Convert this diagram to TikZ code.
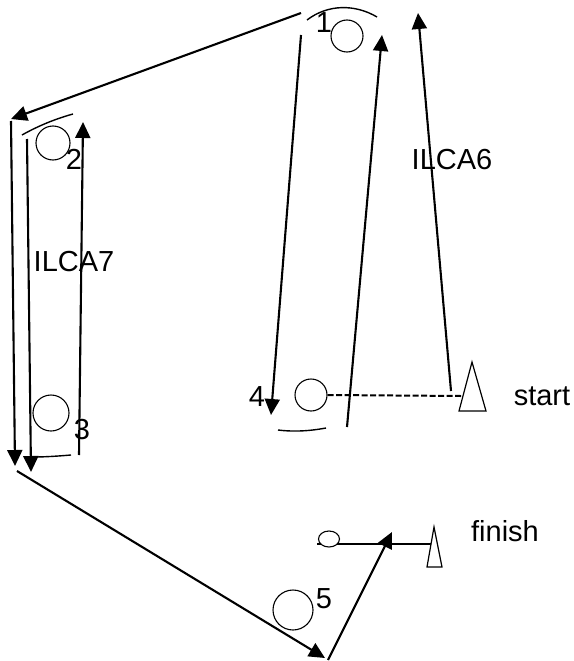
\documentclass[tikz,border=0pt]{standalone}
\usepackage{fontspec}
\setmainfont{Liberation Sans}
\usetikzlibrary{arrows.meta,shapes.geometric}
\tikzset{
    roller/.style={circle, draw, line width=1.1pt, inner sep=0pt},
    mark label/.style={inner sep=0pt, anchor=base, font=\fontsize{29}{32}\selectfont},
    leg/.style={line width=2.1pt, -{Triangle[length=16pt, width=15pt]}},
    guard/.style={line width=1.4pt},
    flag/.style={line width=1.2pt, fill=white}
}
\begin{document}
\begin{tikzpicture}[x=1pt, y=-1pt]
\useasboundingbox (0,0) rectangle (573,661);

\coordinate (pinend) at (317,544);
\coordinate (flagend) at (431,544);
\draw[line width=1.2pt] (pinend) -- (flagend);

\node[roller, minimum size=32pt] (mark1) at (347,36) {};
\node[roller, minimum size=34pt] (mark2) at (53,143) {};
\node[roller, minimum size=36pt] (mark3) at (51,413) {};
\node[roller, minimum size=32pt] (mark4) at (311,395) {};
\node[roller, minimum size=40pt] (mark5) at (293,610) {};
\node[roller, ellipse, fill=white, minimum width=21pt, minimum height=16pt] (finishpin) at (329,539) {};

\coordinate (a1) at (301,13);
\coordinate (a2) at (11,119);
\coordinate (b1) at (301,35);
\coordinate (b2) at (271,415);
\coordinate (c1) at (347,427);
\coordinate (c2) at (382,35);
\coordinate (d1) at (451,391);
\coordinate (d2) at (418,13);
\coordinate (e1) at (11,121);
\coordinate (e2) at (15,466);
\coordinate (f1) at (27,139);
\coordinate (f2) at (31,472);
\coordinate (g1) at (79,455);
\coordinate (g2) at (83,122);
\coordinate (h1) at (17,471);
\coordinate (h2) at (325,658);
\coordinate (k1) at (328,660);
\coordinate (k2) at (392,532);

\draw[leg] (a1) -- (a2);
\draw[leg] (b1) -- (b2);
\draw[leg] (c1) -- (c2);
\draw[leg] (d1) -- (d2);
\draw[leg] (e1) -- (e2);
\draw[leg] (f1) -- (f2);
\draw[leg] (g1) -- (g2);
\draw[leg] (h1) -- (h2);
\draw[leg] (k1) -- (k2);

\draw[guard] (307,20) .. controls (328,4) and (355,4) .. (377,17);
\draw[guard] (22,135) .. controls (38,126) and (55,119) .. (73,114);
\draw[guard] (33,457) .. controls (46,457) and (59,456) .. (71,455);
\draw[guard] (278,430) .. controls (294,432) and (310,431) .. (326,428);

\coordinate (starttop) at (472,362);
\coordinate (startleft) at (459,411);
\coordinate (startright) at (486,411);
\draw[flag] (starttop) -- (startright) -- (startleft) -- cycle;
\coordinate (startjoin) at (461,396);
\draw[line width=2pt, dash pattern=on 6pt off 2.5pt] (mark4.east) -- (startjoin);

\coordinate (finishtop) at (434,527);
\coordinate (finishleft) at (427,567);
\coordinate (finishright) at (442,567);
\draw[flag] (finishtop) -- (finishright) -- (finishleft) -- cycle;

\node[mark label] (num1) at (324,33) {1};
\node[mark label] (num2) at (74,169) {2};
\node[mark label] (num3) at (82,439) {3};
\node[mark label] (num4) at (257,406) {4};
\node[mark label] (num5) at (324,608) {5};
\node[mark label] (ilca6) at (452,169) {ILCA6};
\node[mark label] (ilca7) at (74,271) {ILCA7};
\node[mark label] (starttext) at (542,405) {start};
\node[mark label] (finishtext) at (505,541) {finish};
\end{tikzpicture}
\end{document}
